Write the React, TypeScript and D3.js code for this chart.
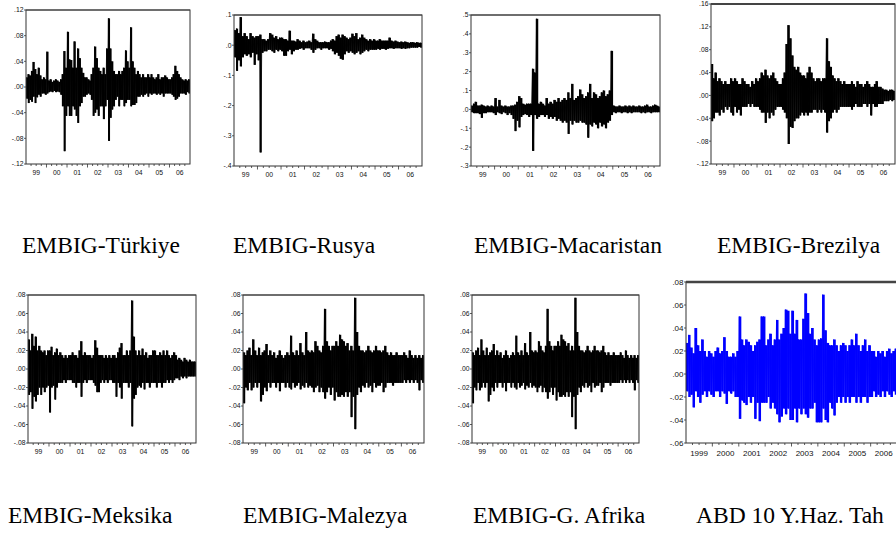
import React from 'react';
import * as d3 from 'd3';

// monthly high / low daily returns (percent), Jan 1999 .. Dec 2006
const turkiyeHi = [
  1.5, 2, 1.8, 2.5, 3.9, 2.8, 2, 3, 1.8, 1.2, 1.5, 1.2,
  5.5, 1, 1.2, 0.8, 1, 1.2, 1, 0.8, 1.2, 2, 5.6, 3,
  8.6, 4.3, 4.2, 3, 7.1, 3, 6, 4.5, 3, 2.2, 1.5, 1.5,
  1.2, 1, 2, 3, 6.3, 4.5, 3, 2.5, 2, 3, 2, 6,
  10.7, 6, 4, 2.5, 2, 2, 2.5, 2, 2.5, 3, 5.7, 4,
  3, 9.3, 4, 3, 2, 2.5, 2, 1.5, 2, 1.5, 1.5, 2,
  1.5, 2, 1.5, 1.2, 1.5, 2, 1.2, 1.5, 1.5, 1.8, 1.5, 1.2,
  1.2, 1.5, 2, 3.3, 2.5, 2, 1.5, 1.2, 1, 1.2, 1, 1.2,
];
const turkiyeLo = [
  -1.8, -2.5, -2, -2.3, -1.5, -2.5, -1.6, -1.2, -1.5, -1, -1, -1.2,
  -1, -0.8, -0.7, -0.8, -0.6, -0.8, -0.7, -0.8, -1.2, -3, -10, -4.5,
  -3, -4.5, -4.5, -3, -3.5, -4.5, -5.6, -3, -2.5, -1.5, -1.5, -1.2,
  -1, -1.2, -2, -4.5, -4, -3.5, -4.5, -3, -3, -5, -3, -2,
  -8.4, -4.8, -3.5, -3, -2, -1.5, -3, -2, -2, -3, -2.5, -2,
  -2, -3, -2.8, -2.8, -2.5, -1.5, -1.5, -1.2, -1.5, -1.2, -1, -1.5,
  -1, -1.2, -1, -1, -1.2, -1, -1.2, -1, -1.5, -1, -1, -1,
  -1, -1.2, -1.5, -2, -1.8, -1.5, -1, -1, -1, -1.2, -0.8, -1,
];

const rusyaHi = [
  5, 5.5, 4, 9.3, 3, 4, 3, 2, 4, 3, 2.5, 3,
  3, 3.5, 2, 2, 1.5, 2, 4, 3.5, 2.5, 3, 2, 2.5,
  2.5, 2, 2, 1.5, 4.8, 1.5, 1.5, 1.2, 2, 1.5, 1, 1.5,
  1, 1.2, 1.5, 1, 3.8, 2, 1.5, 1, 1, 1, 1.2, 1,
  1, 1.5, 2, 1.5, 3, 3.5, 2.5, 3.5, 3, 2.5, 2, 2.5,
  3.8, 3, 4, 2, 2.5, 3.5, 2.5, 2, 1.5, 2, 1.5, 2,
  1.5, 1.5, 2, 1.5, 1.5, 1.5, 1.5, 2.5, 1.5, 1.2, 1.5, 1.2,
  1, 1.2, 1, 1.2, 1, 0.8, 1, 1, 0.8, 1, 0.8, 0.8,
];
const rusyaLo = [
  -4, -8.5, -5, -7, -4, -3, -3.5, -3, -4, -2.5, -6.5, -3,
  -5, -35.5, -2.5, -2, -2, -1.5, -1.5, -2, -2.5, -1.5, -2, -1.5,
  -2, -3.5, -3.5, -2, -1.5, -3, -2, -1.5, -1.5, -1.2, -1, -1.5,
  -1, -1, -1, -1.5, -2.5, -1.5, -1, -1, -1.5, -1, -1, -1,
  -1.5, -1.2, -2, -3, -2.5, -3.5, -4.5, -4.8, -3, -2, -2.5, -2,
  -2.5, -3, -2.5, -2, -3, -2.5, -2, -1.5, -2, -1.5, -1.5, -1.5,
  -1.5, -1.2, -1.5, -1.2, -1.2, -1.5, -1.2, -1, -1, -1.2, -1, -1,
  -1, -1.2, -1, -1.2, -1, -1, -0.8, -0.8, -0.8, -0.8, -0.6, -0.8,
];

const macaristanHi = [
  2, 3, 4, 2, 2, 2.5, 2, 1.5, 2, 1.5, 2, 1.5,
  6, 1.5, 5, 2, 1.5, 2, 1.5, 1.5, 2, 2, 2.5, 4,
  7, 6, 3, 2.5, 3, 3, 3, 21.5, 19.5, 48, 3, 4,
  3, 2, 6, 3, 4, 3, 5, 4, 6, 4, 5, 6,
  5, 9, 6, 13.5, 5, 6, 7, 10.5, 8, 6, 7, 9,
  13.5, 6, 9, 8, 6, 7, 9, 10, 7, 8, 10, 31,
  2, 1.5, 1.5, 2, 1.5, 1.5, 2, 1.5, 2, 1.5, 2, 1.5,
  1.5, 2, 1.5, 1.5, 2, 2.5, 1.5, 1.5, 2, 2.5, 2, 1.5,
];
const macaristanLo = [
  -1.5, -2, -2, -2, -2.5, -4.5, -2, -2, -1.5, -1.5, -1.5, -2,
  -3, -1.5, -2, -2.5, -1.5, -2, -3, -2, -3, -5, -11.5, -6,
  -9.5, -4, -3, -2.5, -3, -4, -3, -22, -3, -5, -4, -3,
  -3, -4, -3, -5, -4, -5, -4, -6, -5, -6, -7, -6,
  -7, -13, -6, -8, -6, -7, -7, -6, -7, -7, -8, -15,
  -8, -9, -7, -8, -10, -7, -9, -8, -10, -7, -6, -3,
  -1.5, -2, -1.5, -1.5, -2, -1.5, -1.5, -2, -1.5, -2, -1.5, -1.5,
  -1.5, -1.5, -2, -1.5, -2, -1.5, -1.5, -2, -1.5, -1.5, -1.5, -1.5,
];

const brezilyaHi = [
  5.5, 3, 4, 2.5, 3, 2.5, 2, 2.5, 2, 2, 3, 2.5,
  3, 2.5, 2, 2, 3, 2.5, 2, 2, 1.5, 2.5, 2, 3,
  2.5, 3, 4, 3.5, 4.5, 3.5, 3, 3.5, 4, 3, 2.5, 2,
  2, 3, 4, 9, 12.3, 10, 7, 5, 4.5, 5, 4, 3.5,
  3.5, 3, 4, 5, 4, 3, 2.5, 3, 3, 2.5, 3, 3,
  10, 6, 5, 3.5, 3, 2.5, 3, 2.5, 2, 2.5, 2, 2,
  2, 2.5, 2, 1.5, 2.5, 2, 2, 1.5, 2, 2.5, 2, 1.5,
  1.5, 2, 2.5, 1.5, 1.5, 1.2, 1, 1, 0.8, 1, 1, 0.8,
];
const brezilyaLo = [
  -4.5, -4, -3, -3, -3.5, -2.5, -3, -2, -2.5, -2, -3, -3.5,
  -2, -3, -2.5, -3.5, -2, -2, -2, -1.5, -2, -1.5, -2, -2,
  -2, -2.5, -3, -3, -4.8, -3, -4, -3, -3.5, -2.5, -2, -2,
  -2, -2.5, -3, -4, -8.5, -5.5, -5.7, -4.5, -4, -4, -3.5, -3,
  -3.5, -3, -3.5, -3, -3, -2.5, -2.5, -3, -2.5, -3, -2.5, -3,
  -6.5, -4.5, -4, -3, -2.5, -3, -2.5, -2, -2, -2, -2, -2,
  -2, -2.5, -2, -1.5, -2, -2, -2, -1.5, -1.5, -2, -1.5, -3.5,
  -1.5, -2, -2, -1.5, -1.5, -1.5, -1, -1, -1, -0.8, -1, -0.8,
];

const meksikaHi = [
  3.2, 2, 3.8, 2.5, 3.5, 2, 2.5, 2, 1.8, 2, 1.5, 2,
  2, 2.4, 1.5, 1.8, 2.2, 1.5, 1.8, 1.5, 1.2, 1.5, 1.2, 1.5,
  1.5, 1.8, 1.5, 1.5, 1.2, 2, 3, 1.5, 1.8, 1.5, 1.5, 1.5,
  1.2, 1.5, 3.1, 2.3, 1.5, 1.5, 1.5, 1.2, 1.5, 1.2, 1.5, 1.2,
  1.5, 1.5, 1.2, 1.8, 2.3, 2.8, 1.5, 1.5, 2, 1.5, 2, 7.4,
  3.5, 2, 1.5, 2, 1.5, 2.2, 1.5, 1.8, 1.2, 1.5, 1.5, 2,
  2, 1.5, 1.5, 1.8, 1.5, 2, 1.5, 2, 1.5, 1.2, 1.5, 1.8,
  1.5, 1, 1.2, 1, 0.8, 1.2, 1, 0.8, 1, 0.8, 0.8, 0.8,
];
const meksikaLo = [
  -2.8, -2.5, -4.3, -3, -3.5, -2.8, -2, -2.8, -2, -2.5, -2, -1.8,
  -4.7, -2, -1.8, -3.3, -2, -1.5, -1.5, -1.5, -1.2, -1.5, -1.2, -1.2,
  -1.2, -1.5, -1.5, -2, -1.5, -1.5, -3, -1.5, -1.2, -1.5, -1.2, -1.2,
  -1.2, -1.5, -1.8, -2.5, -2.5, -1.5, -1.2, -1.5, -1.2, -1.5, -1.2, -1.2,
  -1.5, -1.5, -3, -1.5, -2, -3.2, -1.5, -1.5, -1.5, -2, -1.5, -6.2,
  -3.2, -2.8, -2, -1.8, -2, -1.5, -2.2, -1.5, -1.5, -2, -1.5, -1.5,
  -1.5, -2, -1.5, -1.5, -2, -1.5, -1.5, -1.2, -1.5, -1.2, -1.5, -1.2,
  -1, -1, -1.2, -0.8, -1, -0.8, -1, -0.8, -0.8, -0.8, -0.8, -0.8,
];

const malezyaHi = [
  1.8, 1.5, 2, 2.3, 1.5, 3.2, 2, 1.5, 2.3, 1.5, 1.8, 2,
  2.7, 1.5, 2, 1.5, 1.8, 1.2, 1.5, 2, 1.5, 1.2, 1.5, 1.8,
  1.5, 3.6, 1.8, 1.5, 2, 1.5, 2.8, 1.8, 1.5, 4, 2, 1.8,
  2, 1.8, 3, 2.5, 2, 1.8, 2.5, 6.5, 3, 2.5, 2, 2.5,
  2.5, 3, 2.5, 3.7, 3.2, 3, 2.5, 2.8, 2, 2.5, 2, 7.7,
  4, 2.5, 2, 2, 1.8, 2, 2.5, 2, 1.8, 2, 2.5, 2,
  2, 1.8, 2, 2.5, 1.8, 1.5, 1.8, 1.5, 1.5, 1.8, 1.5, 1.5,
  1.5, 1.8, 1.5, 1.2, 2, 1.5, 1.2, 1.5, 1.2, 1.5, 1.2, 1.5,
];
const malezyaLo = [
  -3.7, -2, -2.3, -1.5, -2.3, -2, -1.5, -2, -1.5, -3.5, -2.8, -2,
  -2.4, -1.5, -2, -1.5, -1.5, -2, -1.5, -2.4, -1.5, -1.5, -2, -1.5,
  -2, -2.2, -1.5, -2, -1.8, -1.5, -2.2, -1.8, -2, -1.5, -2, -1.8,
  -2, -2.5, -2, -1.8, -2.5, -2, -2.5, -3.2, -2.5, -2, -2.8, -2,
  -3.4, -2.5, -3, -3, -2.8, -3, -2.5, -3, -2.5, -5.2, -3, -6.5,
  -2.8, -2, -2.5, -1.8, -2, -1.5, -2, -1.8, -2.5, -1.5, -2, -1.8,
  -1.8, -1.5, -2.5, -2, -1.5, -1.5, -1.5, -1.8, -1.5, -1.5, -1.5, -1.5,
  -1.5, -1.2, -1.5, -1.2, -1.5, -1.2, -1.5, -1.2, -1.5, -2.3, -1.2, -1.5,
];

const afrikaHi = [
  1.8, 1.5, 2, 2.3, 1.5, 3.2, 2, 1.5, 2.3, 1.5, 1.8, 2,
  2.7, 1.5, 2, 1.5, 1.8, 1.2, 1.5, 2, 1.5, 1.2, 1.5, 1.8,
  1.5, 3.6, 1.8, 1.5, 2, 1.5, 2.8, 1.8, 1.5, 4, 2, 1.8,
  2, 1.8, 3, 2.5, 2, 1.8, 2.5, 6.5, 3, 2.5, 2, 2.5,
  2.5, 3, 2.5, 3.7, 3.2, 3, 2.5, 2.8, 2, 2.5, 2, 7.7,
  4, 2.5, 2, 2, 1.8, 2, 2.5, 2, 1.8, 2, 2.5, 2,
  2, 1.8, 2, 2.5, 1.8, 1.5, 1.8, 1.5, 1.5, 1.8, 1.5, 1.5,
  1.5, 1.8, 1.5, 1.2, 2, 1.5, 1.2, 1.5, 1.2, 1.5, 1.2, 1.5,
];
const afrikaLo = [
  -3.7, -2, -2.3, -1.5, -2.3, -2, -1.5, -2, -1.5, -3.5, -2.8, -2,
  -2.4, -1.5, -2, -1.5, -1.5, -2, -1.5, -2.4, -1.5, -1.5, -2, -1.5,
  -2, -2.2, -1.5, -2, -1.8, -1.5, -2.2, -1.8, -2, -1.5, -2, -1.8,
  -2, -2.5, -2, -1.8, -2.5, -2, -2.5, -3.2, -2.5, -2, -2.8, -2,
  -3.4, -2.5, -3, -3, -2.8, -3, -2.5, -3, -2.5, -5.2, -3, -6.5,
  -2.8, -2, -2.5, -1.8, -2, -1.5, -2, -1.8, -2.5, -1.5, -2, -1.8,
  -1.8, -1.5, -2.5, -2, -1.5, -1.5, -1.5, -1.8, -1.5, -1.5, -1.5, -1.5,
  -1.5, -1.2, -1.5, -1.2, -1.5, -1.2, -1.5, -1.2, -1.5, -2.3, -1.2, -1.5,
];

const abdHi = [
  2.7, 3.4, 2.3, 1.8, 4, 2.5, 2, 3, 2, 1.5, 2, 1.8,
  1.5, 2, 2.3, 1.8, 2, 3.2, 2, 1.5, 1.5, 1.8, 1.5, 2,
  5, 3, 2.5, 3, 2.8, 2.5, 2, 2.5, 2.8, 3, 5, 5,
  2.5, 3, 3.5, 2.5, 3, 4.7, 3, 3.5, 4, 5.6, 5.5, 3.5,
  5.5, 3.5, 4.7, 3, 3, 4.8, 7, 5.3, 3.5, 4, 3, 2.5,
  3, 3.1, 6.9, 3.8, 2.7, 2.5, 2.5, 3, 2.5, 2, 2.5, 2.7,
  2.5, 2, 2.5, 3, 2.5, 3.5, 2.5, 2, 2.5, 3, 2, 2.5,
  2, 2, 1.5, 2, 1.8, 2, 1.5, 2, 2.2, 1.8, 2, 2.2,
];
const abdLo = [
  -1.5, -2, -1.8, -2.9, -1.5, -2, -2.5, -1.8, -1.5, -2, -1.5, -1.8,
  -2, -1.5, -1.5, -2, -1.5, -1.7, -2.6, -1.5, -1.7, -1.5, -2, -2,
  -3.9, -2.3, -2.5, -2.7, -2, -2.5, -2, -3.9, -2.5, -4.1, -2.5, -2.5,
  -2.5, -2, -3, -2.5, -3, -3.5, -4.2, -3.7, -3, -3.5, -3, -4,
  -4, -3, -4.2, -3, -3.5, -3, -3.5, -3.8, -3, -3, -2.5, -4.2,
  -4.2, -4.2, -3, -4, -4.2, -2.5, -3, -3.6, -2.5, -2, -2.5, -2,
  -2.5, -2, -2.5, -2, -2, -2.5, -2, -2.5, -2, -2, -2.5, -2,
  -2, -1.5, -2, -1.8, -2, -1.5, -2, -1.5, -1.8, -2, -1.5, -1.8,
];

const yearsShort = ['99', '00', '01', '02', '03', '04', '05', '06'];
const yearsLong = ['1999', '2000', '2001', '2002', '2003', '2004', '2005', '2006'];

const ticks12 = [12, 8, 4, 0, -4, -8, -12];
const labels12 = ['.12', '.08', '.04', '.00', '-.04', '-.08', '-.12'];
const ticksRu = [10, 0, -10, -20, -30, -40];
const labelsRu = ['.1', '.0', '-.1', '-.2', '-.3', '-.4'];
const ticksHu = [50, 40, 30, 20, 10, 0, -10, -20, -30];
const labelsHu = ['.5', '.4', '.3', '.2', '.1', '.0', '-.1', '-.2', '-.3'];
const ticksBr = [16, 12, 8, 4, 0, -4, -8, -12];
const labelsBr = ['.16', '.12', '.08', '.04', '.00', '-.04', '-.08', '-.12'];
const ticks08 = [8, 6, 4, 2, 0, -2, -4, -6, -8];
const labels08 = ['.08', '.06', '.04', '.02', '.00', '-.02', '-.04', '-.06', '-.08'];
const ticksUs = [8, 6, 4, 2, 0, -2, -4, -6];
const labelsUs = ['.08', '.06', '.04', '.02', '.00', '-.02', '-.04', '-.06'];

const panels = [
  { id: 'tr', caption: 'EMBIG-Türkiye', hi: turkiyeHi, lo: turkiyeLo, ticks: ticks12, labels: labels12,
    box: [26, 190, 10, 164], cap: [22, 253], color: '#000', long: false, top: 1 },
  { id: 'ru', caption: 'EMBIG-Rusya', hi: rusyaHi, lo: rusyaLo, ticks: ticksRu, labels: labelsRu,
    box: [234, 422, 15, 166], cap: [233, 253], color: '#000', long: false, top: 1 },
  { id: 'hu', caption: 'EMBIG-Macaristan', hi: macaristanHi, lo: macaristanLo, ticks: ticksHu, labels: labelsHu,
    box: [471, 660, 15, 166], cap: [474, 253], color: '#000', long: false, top: 1 },
  { id: 'br', caption: 'EMBIG-Brezilya', hi: brezilyaHi, lo: brezilyaLo, ticks: ticksBr, labels: labelsBr,
    box: [711, 895, 4, 164], cap: [717, 253], color: '#000', long: false, top: 1.8 },
  { id: 'mx', caption: 'EMBIG-Meksika', hi: meksikaHi, lo: meksikaLo, ticks: ticks08, labels: labels08,
    box: [28, 196, 295, 443], cap: [8, 523], color: '#000', long: false, top: 1 },
  { id: 'my', caption: 'EMBIG-Malezya', hi: malezyaHi, lo: malezyaLo, ticks: ticks08, labels: labels08,
    box: [243, 424, 295, 443], cap: [243, 523], color: '#000', long: false, top: 1 },
  { id: 'za', caption: 'EMBIG-G. Afrika', hi: afrikaHi, lo: afrikaLo, ticks: ticks08, labels: labels08,
    box: [472, 639, 295, 443], cap: [473, 523], color: '#000', long: false, top: 1 },
  { id: 'us', caption: 'ABD 10 Y.Haz. Tah', hi: abdHi, lo: abdLo, ticks: ticksUs, labels: labelsUs,
    box: [686, 897, 282, 443], cap: [696, 523], color: '#0000ff', long: true, top: 2.4 },
];

const start = new Date(1999, 0, 1);
const end = new Date(2007, 0, 1);
const sans = "'Liberation Sans', Arial, sans-serif";
const serif = "'Liberation Serif', 'Times New Roman', serif";

function Panel({ p }: { p: typeof panels[number] }) {
  const [x0, x1, y0, y1] = p.box;
  const x = d3.scaleTime().domain([start, end]).range([x0, x1]);
  const y = d3.scaleLinear().domain([d3.min(p.ticks)!, d3.max(p.ticks)!]).range([y1, y0]);

  // zigzag between each month's high and low
  const pts: [Date, number][] = [];
  p.hi.forEach((v, i) => {
    pts.push([new Date(1999, i, 8), v]);
    pts.push([new Date(1999, i, 22), p.lo[i]]);
  });
  const line = d3.line<[Date, number]>().x(d => x(d[0])).y(d => y(d[1]));

  const quarters = d3.timeMonth.every(3)!.range(new Date(1999, 3, 1), end);
  const fs = p.long ? 8 : 6.8;

  return (
    <g>
      <defs>
        <clipPath id={'clip-' + p.id}>
          <rect x={x0} y={y0} width={x1 - x0} height={y1 - y0} />
        </clipPath>
      </defs>
      <g clipPath={`url(#clip-${p.id})`}>
        {p.hi.map((v, i) => {
          const a = x(new Date(1999, i, 1));
          const b = x(new Date(1999, i + 1, 1));
          return <rect key={i} x={a} width={b - a + 0.3} y={y(v)} height={y(p.lo[i]) - y(v)} fill={p.color} />;
        })}
        <path d={line(pts)!} fill="none" stroke={p.color} strokeWidth={0.8} strokeLinejoin="miter"
          strokeMiterlimit={2} />
      </g>
      <rect x={x0} y={y0} width={x1 - x0} height={y1 - y0} fill="none" stroke="#333" strokeWidth={1} />
      <line x1={x0} x2={x1} y1={y0} y2={y0} stroke="#444" strokeWidth={p.top} />
      {p.ticks.map((t, i) => (
        <g key={t}>
          <line x1={x0 - 2} x2={x0} y1={y(t)} y2={y(t)} stroke="#333" strokeWidth={0.8} />
          <text x={x0 - 2.5} y={y(t)} dy="0.35em" textAnchor="end" fontSize={fs}
            fontFamily={sans} fill="#111">{p.labels[i]}</text>
        </g>
      ))}
      {quarters.map(d => {
        const major = d.getMonth() === 0;
        return <line key={+d} x1={x(d)} x2={x(d)} y1={y1} y2={y1 + (major ? 3.5 : 2)} stroke="#333" strokeWidth={0.8} />;
      })}
      {(p.long ? yearsLong : yearsShort).map((lab, i) => (
        <text key={lab} x={x(new Date(1999 + i, 6, 1))} y={y1 + (p.long ? 12.5 : 11)} textAnchor="middle"
          fontSize={fs} fontFamily={sans} fill="#111">{lab}</text>
      ))}
      <text x={p.cap[0]} y={p.cap[1]} fontSize={23.5} fontFamily={serif} fill="#000">{p.caption}</text>
    </g>
  );
}

export default function App() {
  return (
    <svg width={896} height={534} style={{ position: 'absolute', left: 0, top: 0, background: '#fff' }}>
      {panels.map(p => <Panel key={p.id} p={p} />)}
    </svg>
  );
}
